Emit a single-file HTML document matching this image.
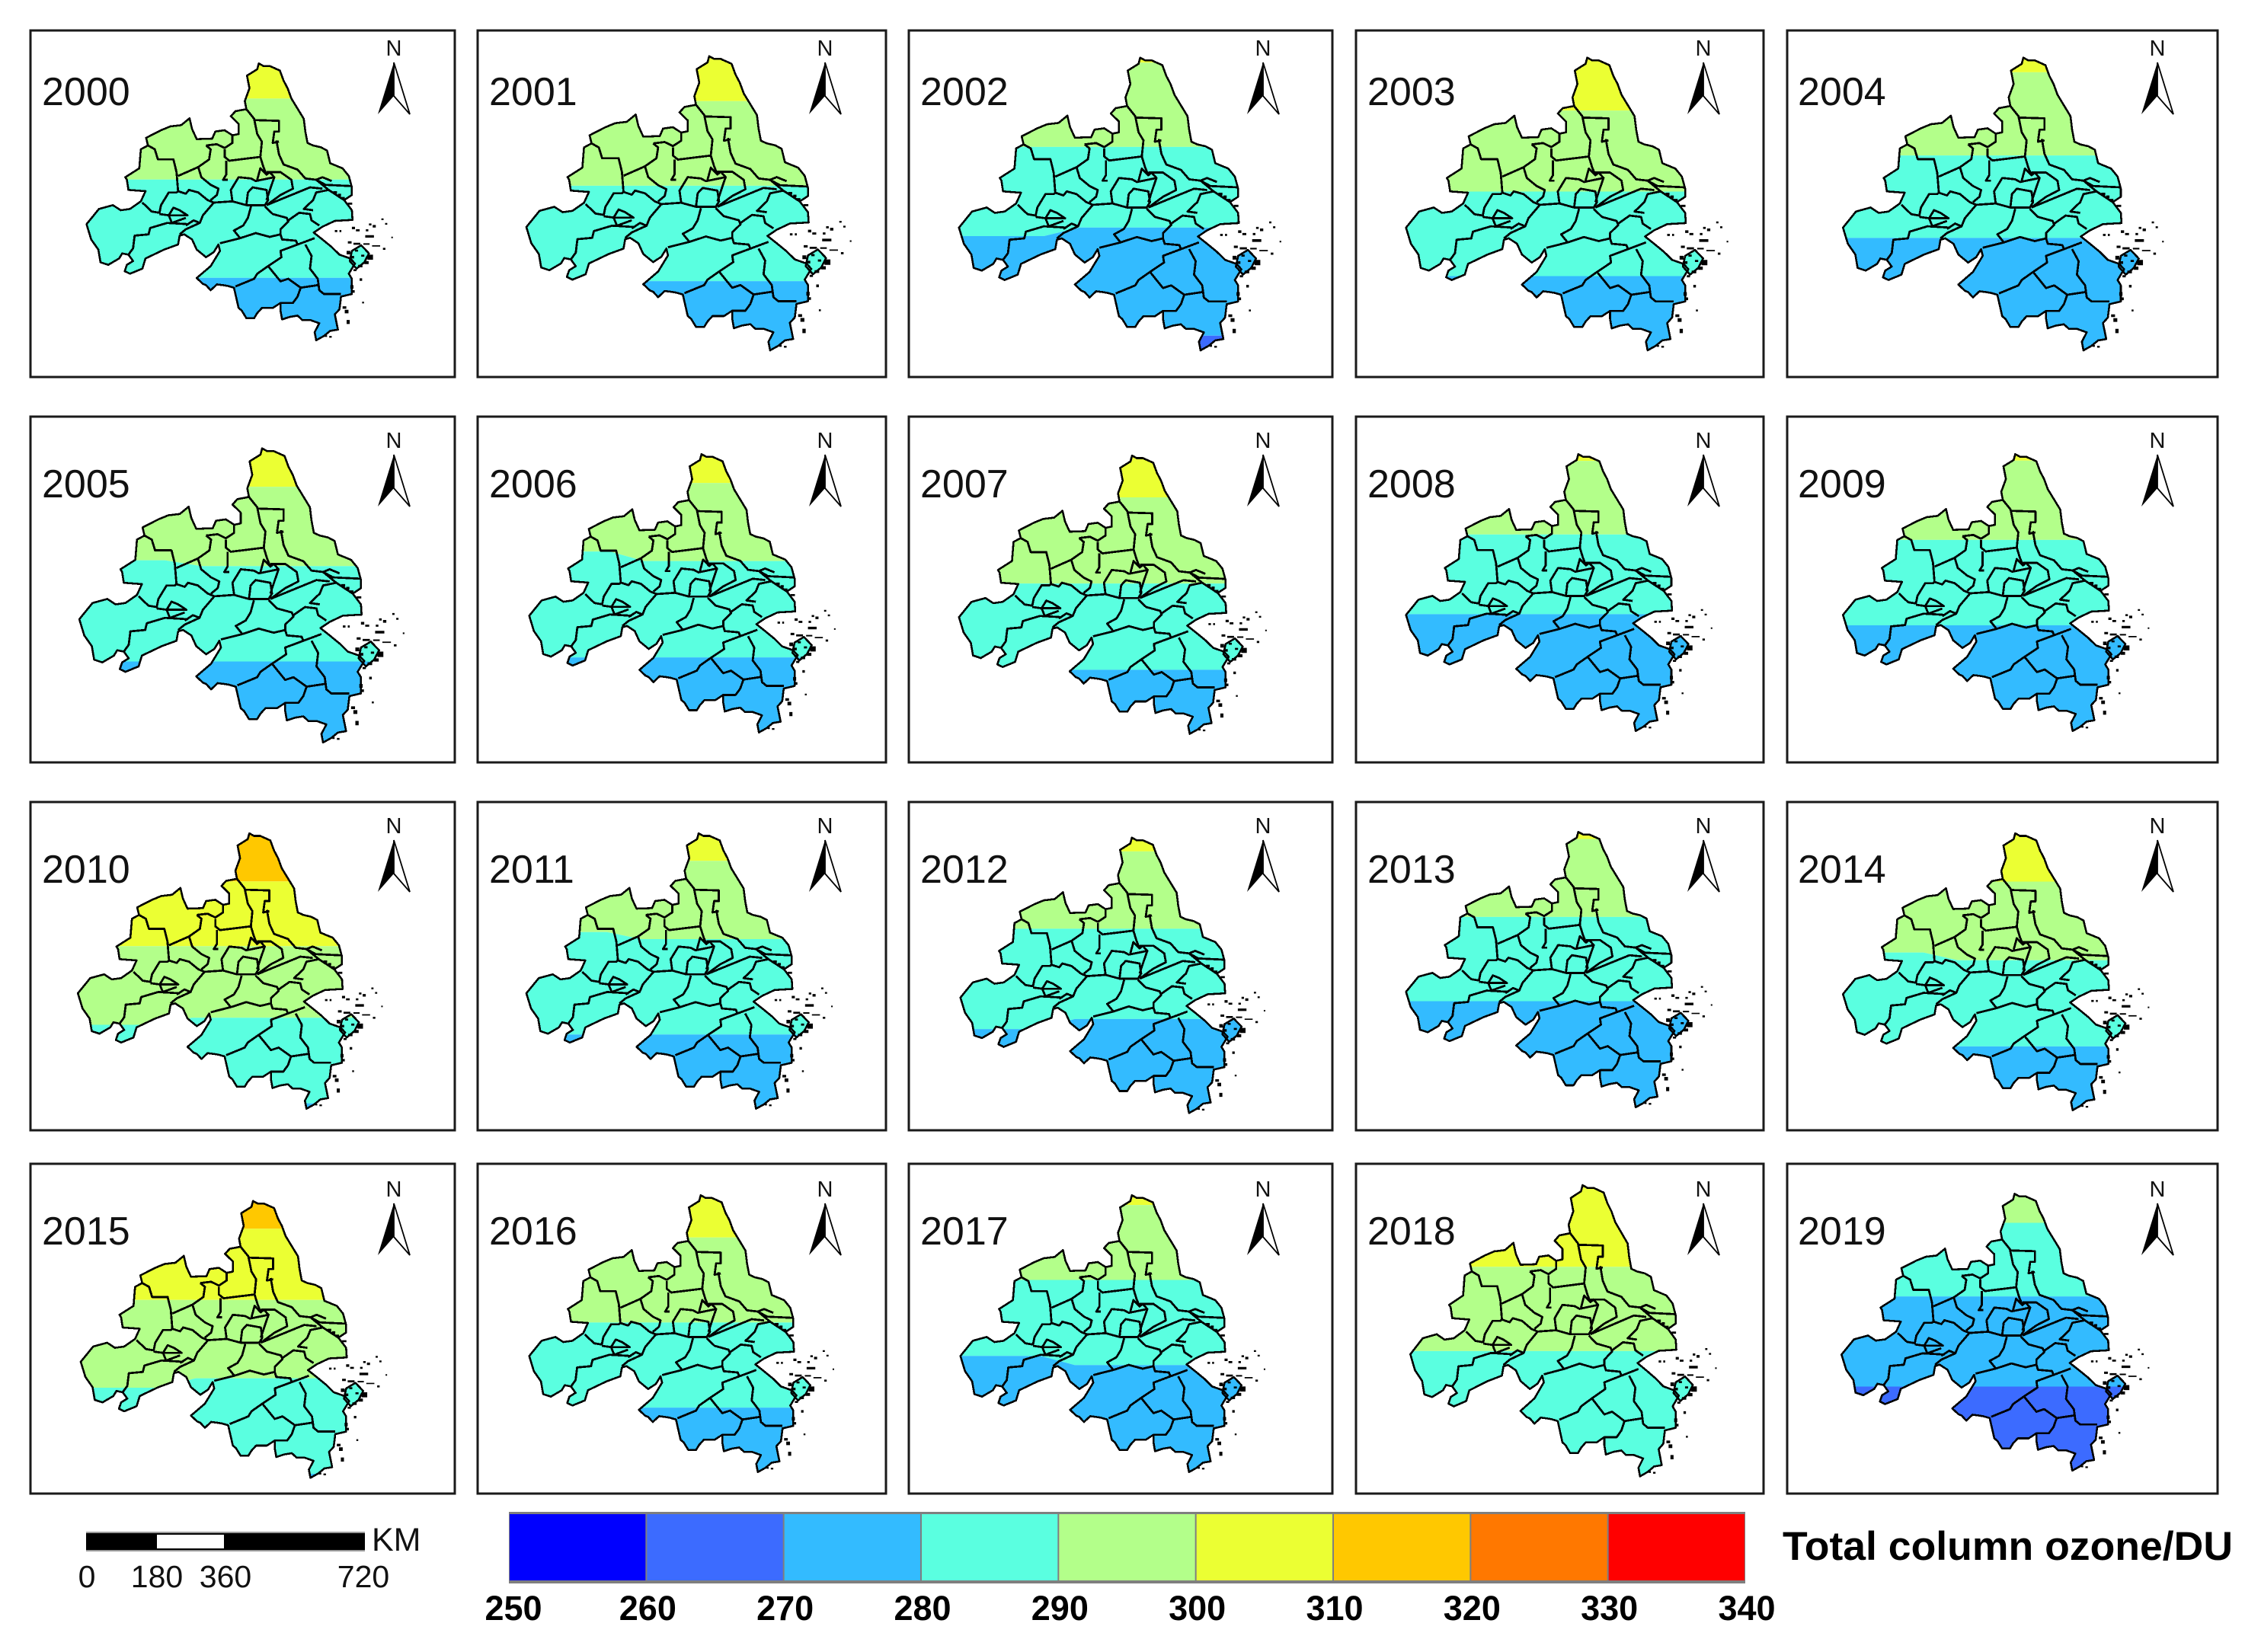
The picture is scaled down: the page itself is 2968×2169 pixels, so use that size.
<!DOCTYPE html>
<html lang="en">
<head>
<meta charset="utf-8">
<title>Total column ozone 2000-2019</title>
<style>
html,body{margin:0;padding:0;background:#fff;width:2968px;height:2169px;overflow:hidden}
svg{display:block;font-family:"Liberation Sans",sans-serif}
#region-outline,#county-lines{vector-effect:non-scaling-stroke;shape-rendering:crispEdges}
#region-outline{stroke-width:2.6px}
#county-lines{stroke-width:2.8px}
</style>
</head>
<body>
<svg id="figure" xmlns="http://www.w3.org/2000/svg" width="2968" height="2169" viewBox="0 0 2968 2169">
<defs>
<path id="region-outline" d="M835,252 L850,262 L870,262 L903,280 L915,320 L928,350 L940,390 L965,440 L980,470 L985,520 L992,565 L1010,575 L1035,582 L1055,595 L1065,645 L1105,665 L1125,695 L1135,740 L1135,770 L1110,790 L1135,830 L1137,868 L1080,872 L1040,895 L1012,918 L1040,945 L1070,975 L1095,1005 L1130,1020 L1145,1040 L1125,1080 L1135,1100 L1135,1160 L1100,1170 L1095,1220 L1080,1240 L1090,1300 L1065,1305 L1045,1325 L1020,1342 L1015,1310 L1030,1275 L1000,1262 L975,1262 L960,1245 L935,1250 L910,1260 L905,1225 L905,1195 L880,1215 L845,1215 L830,1235 L820,1255 L795,1255 L780,1225 L770,1215 L755,1135 L735,1128 L720,1125 L700,1122 L680,1145 L665,1125 L655,1120 L635,1097 L680,1050 L710,990 L705,965 L690,995 L665,1015 L635,985 L620,945 L595,925 L580,930 L575,965 L530,985 L470,1020 L460,1060 L420,1080 L403,1070 L410,1045 L430,1030 L415,1005 L395,1000 L385,1020 L350,1045 L325,1035 L318,985 L295,945 L280,885 L320,825 L365,810 L390,830 L420,825 L455,795 L470,755 L415,750 L410,710 L405,700 L450,665 L455,590 L478,575 L472,545 L520,515 L550,500 L585,495 L612,468 L620,510 L635,550 L685,548 L695,520 L725,515 L750,535 L770,530 L770,490 L745,460 L760,440 L795,432 L790,400 L805,350 L797,300 L830,275 Z M1135,990 L1165,968 L1190,1000 L1175,1035 L1150,1060 L1128,1030 Z"/>
<path id="county-lines" d="M795,432 L820,470 L830,530 L845,560 L840,620 L850,660 L860,690 M820,475 L900,478 L900,520 L885,520 L880,565 L900,560 M892,555 L900,610 L915,650 L960,670 L985,705 L1020,710 M665,575 L700,570 L725,585 L750,565 L750,535 M665,575 L680,590 L675,630 L640,660 L650,700 L680,730 L705,745 L700,770 L680,790 M725,590 L725,620 L740,635 L840,620 M730,635 L730,690 L720,710 L735,710 M478,575 L500,590 L510,630 L560,630 L570,680 L575,755 L570,760 L545,760 L520,810 L515,840 L490,835 L460,800 M575,695 L640,660 M575,755 L600,765 L610,750 L640,760 L670,790 L690,800 L655,850 L645,880 L600,905 L580,925 M690,800 L750,795 L745,750 L770,700 L810,705 L825,715 L885,700 L870,680 L860,690 L840,665 L830,710 M750,795 L795,810 L800,760 L815,740 L860,750 L865,790 L855,810 L810,810 L795,810 M860,790 L875,735 L885,700 M860,680 L905,680 L940,710 L945,745 L905,770 L860,810 M810,815 L800,860 L785,890 L755,910 L775,940 M855,815 L880,845 L925,860 L930,875 L905,905 L905,925 L870,935 L825,920 L775,940 L710,960 M930,870 L965,840 L1000,845 L1005,870 L1030,890 M1010,830 L980,825 L1010,790 L1020,760 L1060,750 L1110,790 M860,810 L900,790 L1000,740 L1040,745 M905,925 L910,945 L955,950 L960,965 L1015,940 M960,965 L905,990 L908,1015 L865,1050 L830,1080 L820,1100 L760,1130 M985,965 L1005,1010 L1000,1060 L1025,1100 L1030,1145 L1045,1160 L1100,1160 M865,1050 L905,1110 L930,1100 L970,1135 L1025,1125 M970,1135 L960,1170 L945,1195 L905,1195 M1135,735 L1050,730 L1020,710 L1040,700 L1070,715 M1020,710 L1060,750 M515,845 L545,850 L605,850 L580,830 L560,820 L545,850 L555,880 L600,860 M610,885 L540,880 L485,900 L480,925 L435,930 L430,980 L415,1005 M645,880 L625,870 L600,890"/>
<path id="island-specks" d="M1075,755 h12 v10 h-12 Z M1090,765 h10 v10 h-10 Z M1100,778 h12 v10 h-12 Z M1122,800 h14 v8 h-14 Z M1080,908 h8 v8 h-8 Z M1095,908 h6 v8 h-6 Z M1135,895 h10 v10 h-10 Z M1148,905 h12 v8 h-12 Z M1190,882 h8 v8 h-8 Z M1202,888 h10 v10 h-10 Z M1180,905 h8 v8 h-8 Z M1230,862 h7 v7 h-7 Z M1242,880 h7 v7 h-7 Z M1178,928 h28 v10 h-28 Z M1262,934 h5 v6 h-5 Z M1122,952 h12 v9 h-12 Z M1140,958 h22 v8 h-22 Z M1172,960 h20 v6 h-20 Z M1200,968 h26 v5 h-26 Z M1235,978 h8 v8 h-8 Z M1118,990 h12 v14 h-12 Z M1130,1010 h12 v10 h-12 Z M1145,985 h10 v8 h-10 Z M1165,1005 h10 v8 h-10 Z M1185,1005 h18 v20 h-18 Z M1175,1030 h14 v12 h-14 Z M1155,1045 h14 v10 h-14 Z M1140,1062 h10 v8 h-10 Z M1160,1098 h8 v10 h-8 Z M1130,1125 h10 v14 h-10 Z M1134,1145 h10 v10 h-10 Z M1168,1190 h6 v7 h-6 Z M1105,1208 h12 v10 h-12 Z M1112,1222 h12 v14 h-12 Z M1118,1262 h10 v16 h-10 Z M1062,1325 h8 v7 h-8 Z M1048,1322 h7 v7 h-7 Z"/>
<clipPath id="region-clip"><use href="#region-outline"/></clipPath>
</defs>
<rect width="2968" height="2169" fill="#ffffff"/>
<g id="panels"></g>
<g id="scale-bar">
<rect x="113" y="2011" width="366" height="26" fill="#9a9a9a"/>
<rect x="113" y="2013" width="366" height="22" fill="#000000"/>
<rect x="206" y="2015" width="88" height="18" fill="#ffffff"/>
<text x="488" y="2036" font-size="43" fill="#111">KM</text>
<text x="114" y="2084" font-size="41" text-anchor="middle" fill="#111">0</text>
<text x="206" y="2084" font-size="41" text-anchor="middle" fill="#111">180</text>
<text x="296" y="2084" font-size="41" text-anchor="middle" fill="#111">360</text>
<text x="477" y="2084" font-size="41" text-anchor="middle" fill="#111">720</text>
</g>
<g id="colorbar"></g>
<text x="2340" y="2048" font-size="53" font-weight="700" fill="#000" textLength="591" lengthAdjust="spacingAndGlyphs">Total column ozone/DU</text>
</svg>
<script>
// Colour classes (DU) and their fills
var classEdges = [250,260,270,280,290,300,310,320,330,340];
var classColors = ['#0000ff','#3c6bff','#33bbff','#5affe0','#b3ff8a','#ebff33','#ffc800','#ff7800','#ff0000'];

// Panel years
var years = [2000,2001,2002,2003,2004,2005,2006,2007,2008,2009,2010,2011,2012,2013,2014,2015,2016,2017,2018,2019];

// Latitude (deg N) at which each ozone contour crosses the region, per year; null = contour absent
var contour310 = [null,null,null,null,null,null,null,null,null,null,33.77,null,null,null,null,34.38,null,null,null,null];
var contour300 = [34.16,33.95,35.06,33.72,34.79,34.13,34.35,33.97,35.00,35.01,31.84,34.38,34.79,34.99,33.77,32.27,33.95,34.91,32.90,null];
var contour290 = [31.76,31.59,32.70,31.45,32.46,31.92,32.05,31.43,32.82,32.66,29.71,32.05,32.49,32.67,31.44,29.95,31.43,32.69,30.53,34.34];
var contour280 = [28.85,28.93,30.44,29.08,30.15,29.26,29.21,28.89,30.46,30.13,27.16,29.21,29.80,30.16,28.89,27.12,28.91,30.17,null,32.16];
var contour270 = [null,null,27.41,null,null,null,null,null,null,null,null,null,null,null,null,null,null,null,null,29.49];

// Same contours on the western side of the region where they tilt away; null = same latitude as above
var contour290West = [null,null,null,null,null,32.08,32.33,null,null,null,29.50,32.26,null,null,31.67,29.67,null,null,null,null];
var contour280West = [null,null,30.20,null,null,null,null,null,null,null,null,null,29.50,null,null,null,null,30.44,null,null];

var contourLevels = [310,300,290,280,270];
var contourSeries = [contour310,contour300,contour290,contour280,contour270];
var contourWestSeries = [null,null,contour290West,contour280West,null];

// Axis functions
var LAT_N = 35.2, LAT_S = 27.0, MAP_TOP = 252, MAP_BOTTOM = 1342, MAP_WEST = 280, MAP_EAST = 1265;
function latToY(lat){ return MAP_TOP + (LAT_N - lat) / (LAT_N - LAT_S) * (MAP_BOTTOM - MAP_TOP); }
function colorFor(lowerEdge){ return classColors[classEdges.indexOf(lowerEdge)]; }
var BAR_LEFT = 668, BAR_RIGHT = 2291;
function ozoneToX(v){ return BAR_LEFT + (v - classEdges[0]) / (classEdges[classEdges.length-1] - classEdges[0]) * (BAR_RIGHT - BAR_LEFT); }
function boundary(yMain, yWest){
  return [[MAP_WEST-20,yWest],[540,yWest],[650,yMain],[MAP_EAST+20,yMain]];
}

// Page layout
var frameCols = [[40,597],[627,1163],[1193,1749],[1780,2315],[2346,2911]];
var frameRows = [[40,495],[547,1001],[1053,1484],[1528,1961]];
var labelXs = [55,642,1208,1795,2360];
var labelBaselines = [138,653,1159,1634];
var arrowXs = [517,1083,1658,2236,2832];
var northBaselines = [73,588,1094,1571];
var PX = 1.893;
var mapBoxes = [
 [60,272,44,236],[365,590,39,243],[665,888,40,243],[975,1198,40,243],[1278,1500,40,243],
 [55,280,311,515],[367,579,315,508],[665,878,316,509],[975,1187,315,507],[1278,1490,315,507],
 [54,265,578,769],[365,577,578,769],[666,877,581,772],[975,1187,577,768],[1278,1490,578,770],
 [56,268,833,1025],[367,578,829,1021],[666,877,829,1021],[978,1190,822,1024],[1277,1490,828,1020]
];

var NS = 'http://www.w3.org/2000/svg';
function make(parent, tag, attrs){
  var el = document.createElementNS(NS, tag);
  for (var k in attrs) el.setAttribute(k, attrs[k]);
  parent.appendChild(el);
  return el;
}
function bandPolygon(parent, top, bottom, fill){
  var pts = top.concat(bottom.slice().reverse()).map(function(p){ return p[0] + ',' + p[1]; }).join(' ');
  return make(parent, 'polygon', {points:pts, fill:fill});
}

var panelsRoot = document.getElementById('panels');
years.forEach(function(year, i){
  var col = i % 5, row = Math.floor(i / 5);
  var panel = make(panelsRoot, 'g', {});
  
  

  var fx = frameCols[col], fy = frameRows[row];
  var frame = make(panel, 'rect', {x:fx[0], y:fy[0], width:fx[1]-fx[0], height:fy[1]-fy[0], fill:'#fff', stroke:'#1a1a1a', 'stroke-width':3});
  
  

  var box = mapBoxes[i];
  var sx = (box[1]-box[0]) * PX / (MAP_EAST - MAP_WEST);
  var sy = (box[3]-box[2]) * PX / (MAP_BOTTOM - MAP_TOP);
  var map = make(panel, 'g', {transform:'translate(' + (box[0]*PX) + ',' + (box[2]*PX) + ') scale(' + sx + ',' + sy + ') translate(' + (-MAP_WEST) + ',' + (-MAP_TOP) + ')'});
  
  

  var fills = make(map, 'g', {'clip-path':'url(#region-clip)'});
  
  

  var prev = boundary(MAP_TOP-10, MAP_TOP-10), lastLevel = null;
  contourLevels.forEach(function(level, li){
    var lat = contourSeries[li][i];
    if (lat === null) return;
    var westSeries = contourWestSeries[li];
    var latW = (westSeries && westSeries[i] !== null) ? westSeries[i] : lat;
    var next = boundary(latToY(lat), latToY(latW));
    var band = bandPolygon(fills, prev, next, colorFor(level));
    
    
    prev = next;
    lastLevel = level;
  });
  var last = bandPolygon(fills, prev, boundary(MAP_BOTTOM+10, MAP_BOTTOM+10), colorFor(lastLevel-10));
  
  

  var lines = make(map, 'use', {href:'#county-lines', fill:'none', stroke:'#000', 'stroke-linejoin':'round'});
  
  

  var outline = make(map, 'use', {href:'#region-outline', fill:'none', stroke:'#000', 'stroke-linejoin':'round'});
  
  

  var specks = make(map, 'use', {href:'#island-specks', fill:'#000'});
  
  

  var label = make(panel, 'text', {x:labelXs[col], y:labelBaselines[row], 'font-size':52, fill:'#111'});
  label.textContent = String(year);
  
  

  var cx = arrowXs[col], ny = northBaselines[row];
  var north = make(panel, 'text', {x:cx, y:ny, 'font-size':29, 'text-anchor':'middle', fill:'#111'});
  north.textContent = 'N';
  
  

  var arrow = make(panel, 'g', {});
  
  
  var ax = [cx, cx-21, cx, cx+21], ay = [ny+9, ny+77, ny+53, ny+77];
  make(arrow, 'polygon', {points:ax[0]+','+ay[0]+' '+ax[1]+','+ay[1]+' '+ax[2]+','+ay[2], fill:'#000'});
  make(arrow, 'polygon', {points:ax[0]+','+ay[0]+' '+ax[3]+','+ay[3]+' '+ax[2]+','+ay[2], fill:'#fff', stroke:'#000', 'stroke-width':1.8});
});

// Colour bar
var bar = document.getElementById('colorbar');
var barShadow = make(bar, 'rect', {x:BAR_LEFT, y:1985, width:BAR_RIGHT-BAR_LEFT, height:94, fill:'#7f7f7f'});


classColors.forEach(function(color, i){
  var x0 = ozoneToX(classEdges[i]), x1 = ozoneToX(classEdges[i+1]);
  var cell = make(bar, 'rect', {x:x0+1, y:1988, width:x1-x0-2, height:87, fill:color});
  
  
});
classEdges.forEach(function(v){
  var t = make(bar, 'text', {x:ozoneToX(v)+(v === 250 ? 6 : 2), y:2127, 'font-size':45, 'font-weight':700, 'text-anchor':'middle', fill:'#000'});
  t.textContent = String(v);
  
  
});
</script>
</body>
</html>
